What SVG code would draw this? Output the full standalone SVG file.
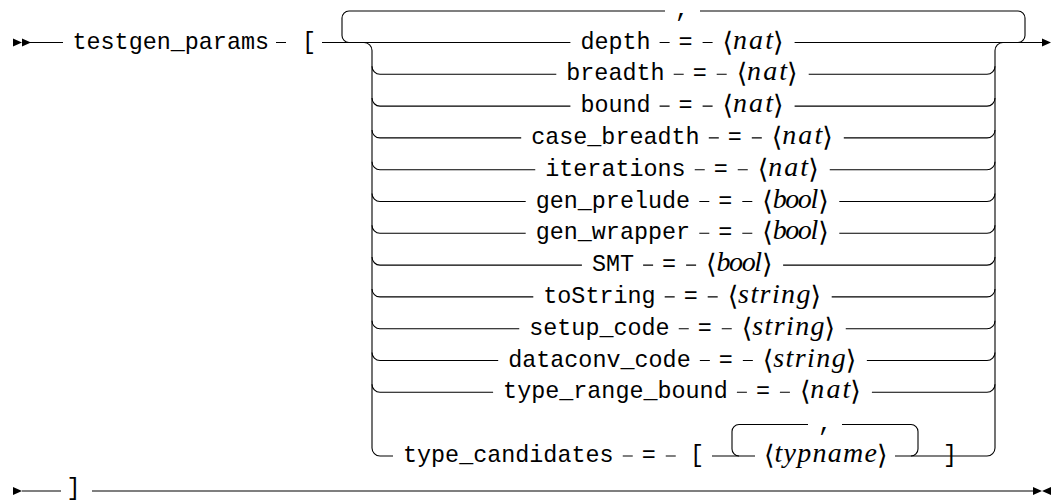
<svg xmlns="http://www.w3.org/2000/svg" width="1055" height="500" viewBox="0 0 1055 500">
<style>
.tt{font-family:"Liberation Mono",monospace;font-size:23.4px;fill:#000}
.it{font-family:"Liberation Serif",serif;font-style:italic;font-size:28px;fill:#000}
.br{font-family:"DejaVu Sans",sans-serif;font-size:27px;fill:#000}
.eq{text-anchor:middle}
#connectors path{fill:none;stroke:#000;stroke-width:1.1}
</style>
<defs>
<path id="tri" d="M0,-4 L9,0 L0,4 Z" fill="#000"/>
</defs>
<rect width="1055" height="500" fill="#fff"/>
<g id="connectors">
<path d="M22 42.5 H63 M276 42.5 H286 M322 42.5 H570.4 M659.6 42.5 H669.6 M702.6 42.5 H712.6 M794.6 42.5 H1042"/>
<path d="M349 42.5 A7 7 0 0 1 342 35.5 V18 A7 7 0 0 1 349 11 H665 M700 11 H1018 A7 7 0 0 1 1025 18 V35.5 A7 7 0 0 1 1018 42.5"/>
<path d="M364 42.5 A8 8 0 0 1 372 50.5 V448 A8 8 0 0 0 380 456 H393"/>
<path d="M968 456 H987 A8 8 0 0 0 995 448 V50.5 A8 8 0 0 1 1003 42.5"/>
<path d="M372 66.3 A8 8 0 0 0 380 74.3 H556.3 M673.7 74.3 H683.7 M716.7 74.3 H726.7 M808.7 74.3 H987 A8 8 0 0 0 995 66.3"/>
<path d="M372 98.1 A8 8 0 0 0 380 106.1 H570.4 M659.6 106.1 H669.6 M702.6 106.1 H712.6 M794.6 106.1 H987 A8 8 0 0 0 995 98.1"/>
<path d="M372 129.9 A8 8 0 0 0 380 137.9 H521.2 M708.8 137.9 H718.8 M751.8 137.9 H761.8 M843.8 137.9 H987 A8 8 0 0 0 995 129.9"/>
<path d="M372 161.7 A8 8 0 0 0 380 169.7 H535.25 M694.75 169.7 H704.75 M737.75 169.7 H747.75 M829.75 169.7 H987 A8 8 0 0 0 995 161.7"/>
<path d="M372 193.5 A8 8 0 0 0 380 201.5 H525.7 M699.3 201.5 H709.3 M742.3 201.5 H752.3 M839.3 201.5 H987 A8 8 0 0 0 995 193.5"/>
<path d="M372 225.3 A8 8 0 0 0 380 233.3 H525.7 M699.3 233.3 H709.3 M742.3 233.3 H752.3 M839.3 233.3 H987 A8 8 0 0 0 995 225.3"/>
<path d="M372 257.1 A8 8 0 0 0 380 265.1 H581.9 M643.1 265.1 H653.1 M686.1 265.1 H696.1 M783.1 265.1 H987 A8 8 0 0 0 995 257.1"/>
<path d="M372 288.9 A8 8 0 0 0 380 296.9 H533.3 M664.7 296.9 H674.7 M707.7 296.9 H717.7 M831.7 296.9 H987 A8 8 0 0 0 995 288.9"/>
<path d="M372 320.7 A8 8 0 0 0 380 328.7 H519.25 M678.75 328.7 H688.75 M721.75 328.7 H731.75 M845.75 328.7 H987 A8 8 0 0 0 995 320.7"/>
<path d="M372 352.5 A8 8 0 0 0 380 360.5 H498.2 M699.85 360.5 H709.85 M742.85 360.5 H752.85 M866.85 360.5 H987 A8 8 0 0 0 995 352.5"/>
<path d="M372 384.3 A8 8 0 0 0 380 392.3 H493.1 M736.9 392.3 H746.9 M779.9 392.3 H789.9 M871.9 392.3 H987 A8 8 0 0 0 995 384.3"/>
<path d="M622.75 456 H632.75 M665.75 456 H675.75 M712 456 H755 M895 456 H968"/>
<path d="M739 456 A7 7 0 0 1 732 449 V431.5 A7 7 0 0 1 739 424.5 H808 M842 424.5 H911 A7 7 0 0 1 918 431.5 V449 A7 7 0 0 1 911 456"/>
<path d="M22 491 H61 M92 491 H1033"/>
<use href="#tri" x="13" y="42.5"/>
<use href="#tri" x="22" y="42.5"/>
<use href="#tri" x="1042" y="42.5"/>
<use href="#tri" x="13" y="491"/>
<use href="#tri" x="1033" y="491"/>
<use href="#tri" transform="translate(1051 491) scale(-1 1)"/>
</g>
<g id="head">
<text class="tt" x="72.5" y="48.5">testgen_params</text>
<text class="tt eq" x="309" y="48.5">[</text>
</g>
<g id="sep"><text class="tt eq" x="682" y="17">,</text></g>
<g id="r-depth">
<text class="tt" x="580.4" y="48.5">depth</text>
<text class="tt eq" x="685.6" y="48.5">=</text>
<text class="br" x="722.6" y="50.5">⟨</text><text class="it" x="733" y="48.5" textLength="40">nat</text><text class="br" x="773" y="50.5">⟩</text>
</g>
<g id="r-breadth">
<text class="tt" x="566.3" y="80.3">breadth</text>
<text class="tt eq" x="699.7" y="80.3">=</text>
<text class="br" x="736.7" y="82.3">⟨</text><text class="it" x="747.1" y="80.3" textLength="40">nat</text><text class="br" x="787.1" y="82.3">⟩</text>
</g>
<g id="r-bound">
<text class="tt" x="580.4" y="112.1">bound</text>
<text class="tt eq" x="685.6" y="112.1">=</text>
<text class="br" x="722.6" y="114.1">⟨</text><text class="it" x="733" y="112.1" textLength="40">nat</text><text class="br" x="773" y="114.1">⟩</text>
</g>
<g id="r-case_breadth">
<text class="tt" x="531.2" y="143.9">case_breadth</text>
<text class="tt eq" x="734.8" y="143.9">=</text>
<text class="br" x="771.8" y="145.9">⟨</text><text class="it" x="782.2" y="143.9" textLength="40">nat</text><text class="br" x="822.2" y="145.9">⟩</text>
</g>
<g id="r-iterations">
<text class="tt" x="545.25" y="175.7">iterations</text>
<text class="tt eq" x="720.75" y="175.7">=</text>
<text class="br" x="757.75" y="177.7">⟨</text><text class="it" x="768.15" y="175.7" textLength="40">nat</text><text class="br" x="808.15" y="177.7">⟩</text>
</g>
<g id="r-gen_prelude">
<text class="tt" x="535.7" y="207.5">gen_prelude</text>
<text class="tt eq" x="725.3" y="207.5">=</text>
<text class="br" x="762.3" y="209.5">⟨</text><text class="it" x="772.7" y="207.5" textLength="45.5">bool</text><text class="br" x="818.2" y="209.5">⟩</text>
</g>
<g id="r-gen_wrapper">
<text class="tt" x="535.7" y="239.3">gen_wrapper</text>
<text class="tt eq" x="725.3" y="239.3">=</text>
<text class="br" x="762.3" y="241.3">⟨</text><text class="it" x="772.7" y="239.3" textLength="45.5">bool</text><text class="br" x="818.2" y="241.3">⟩</text>
</g>
<g id="r-SMT">
<text class="tt" x="591.9" y="271.1">SMT</text>
<text class="tt eq" x="669.1" y="271.1">=</text>
<text class="br" x="706.1" y="273.1">⟨</text><text class="it" x="716.5" y="271.1" textLength="45.5">bool</text><text class="br" x="762" y="273.1">⟩</text>
</g>
<g id="r-toString">
<text class="tt" x="543.3" y="302.9">toString</text>
<text class="tt eq" x="690.7" y="302.9">=</text>
<text class="br" x="727.7" y="304.9">⟨</text><text class="it" x="738.1" y="302.9" textLength="72.4">string</text><text class="br" x="810.5" y="304.9">⟩</text>
</g>
<g id="r-setup_code">
<text class="tt" x="529.25" y="334.7">setup_code</text>
<text class="tt eq" x="704.75" y="334.7">=</text>
<text class="br" x="741.75" y="336.7">⟨</text><text class="it" x="752.15" y="334.7" textLength="72.4">string</text><text class="br" x="824.55" y="336.7">⟩</text>
</g>
<g id="r-dataconv_code">
<text class="tt" x="508.2" y="366.5">dataconv_code</text>
<text class="tt eq" x="725.85" y="366.5">=</text>
<text class="br" x="762.85" y="368.5">⟨</text><text class="it" x="773.25" y="366.5" textLength="72.4">string</text><text class="br" x="845.65" y="368.5">⟩</text>
</g>
<g id="r-type_range_bound">
<text class="tt" x="503.1" y="398.3">type_range_bound</text>
<text class="tt eq" x="762.9" y="398.3">=</text>
<text class="br" x="799.9" y="400.3">⟨</text><text class="it" x="810.3" y="398.3" textLength="40">nat</text><text class="br" x="850.3" y="400.3">⟩</text>
</g>
<g id="r-type_candidates">
<text class="tt" x="403" y="462">type_candidates</text>
<text class="tt eq" x="648.75" y="462">=</text>
<text class="tt eq" x="697" y="462">[</text>
<text class="tt eq" x="825" y="430.5">,</text>
<text class="br" x="764" y="464">⟨</text><text class="it" x="774.4" y="462" textLength="102.6">typname</text><text class="br" x="877" y="464">⟩</text>
<text class="tt eq" x="950" y="462">]</text>
</g>
<g id="tail">
<text class="tt eq" x="73.5" y="495">]</text>
</g>
</svg>
